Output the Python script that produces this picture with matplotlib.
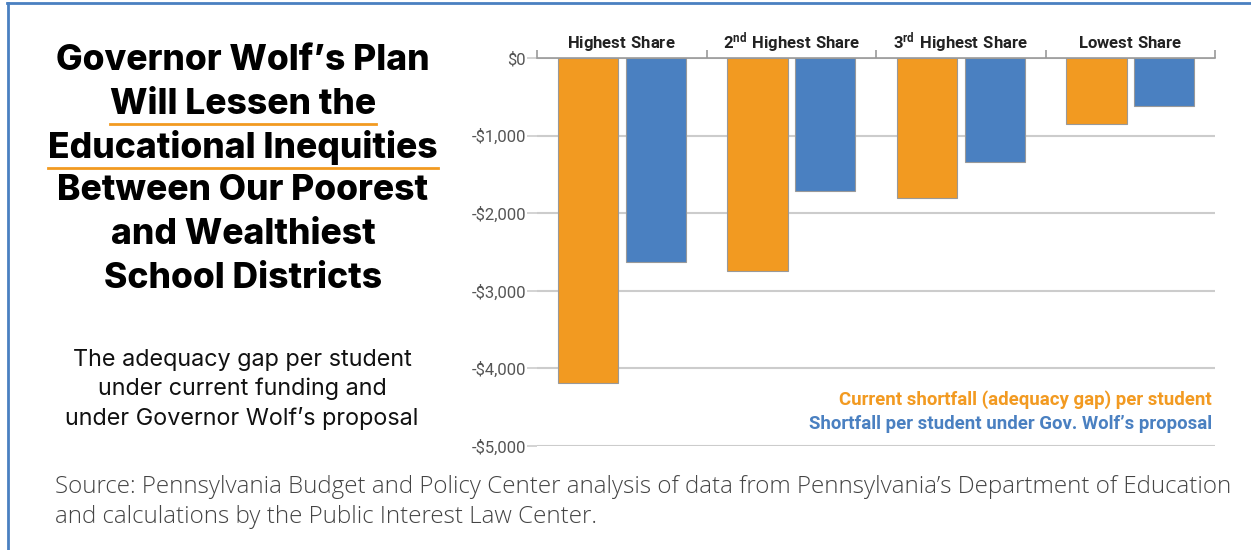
import matplotlib
matplotlib.use("Agg")
import matplotlib.pyplot as plt
from matplotlib.lines import Line2D
import numpy as np

plt.rcParams["mathtext.fontset"] = "custom"
plt.rcParams["mathtext.rm"] = "Roboto"
plt.rcParams["mathtext.bf"] = "Roboto:bold"

categories = [r"$\mathbf{Highest\ Share}$", r"$\mathbf{2^{nd}\ Highest\ Share}$",
              r"$\mathbf{3^{rd}\ Highest\ Share}$", r"$\mathbf{Lowest\ Share}$"]
current_gap = [-4190, -2745, -1805, -850]
proposal_gap = [-2630, -1715, -1340, -620]
yticks = [0, -1000, -2000, -3000, -4000, -5000]
ytick_labels = ["$0", "-$1,000", "-$2,000", "-$3,000", "-$4,000", "-$5,000"]

ORANGE = "#F29A21"
BLUE = "#4A80C1"
GRID = "#CCCCCC"
NARROW = ["Roboto", "DejaVu Sans"]
HEAD = ["Inter", "DejaVu Sans"]
BODY = ["Open Sans", "DejaVu Sans"]
W, H = 1251, 550

fig = plt.figure(figsize=(W / 100, H / 100), dpi=100)
ax = fig.add_axes([0.4293, 0.1891, 0.5420, 0.7055])

x = np.arange(len(categories))
ax.bar(x - 0.2, current_gap, width=0.355, color=ORANGE, edgecolor="#999999",
       linewidth=0.8, zorder=3)
ax.bar(x + 0.2, proposal_gap, width=0.355, color=BLUE, edgecolor="#999999",
       linewidth=0.8, zorder=3)

ax.set_xlim(-0.5, 3.5)
ax.set_ylim(-5000, 0)
ax.set_yticks(yticks)
ax.set_yticklabels(ytick_labels, family=NARROW, fontsize=12, color="#555555")
ax.yaxis.grid(True, color=GRID, linewidth=1.5, zorder=0)
ax.tick_params(axis="y", length=7, width=1.2, color=GRID, pad=1)

# category names sit above the $0 line, separators as small upward ticks
ax.xaxis.tick_top()
ax.set_xticks(x)
ax.set_xticklabels(categories, fontsize=12, color="#222222")
for lbl in ax.get_xticklabels():
    lbl.set_verticalalignment("baseline")
ax.set_xticks(np.arange(-0.5, 4, 1), minor=True)
ax.tick_params(axis="x", which="major", length=0, pad=7)
ax.tick_params(axis="x", which="minor", length=6, width=1.2, color="#999999")
for side in ["left", "right", "bottom"]:
    ax.spines[side].set_visible(False)
ax.spines["top"].set_color("#999999")
ax.spines["top"].set_linewidth(1.2)

ax.text(0.995, 0.1186, "Current shortfall (adequacy gap) per student",
        transform=ax.transAxes, ha="right", va="center", family=NARROW,
        fontsize=13.4, fontweight="bold", color=ORANGE)
ax.text(0.995, 0.0567, "Shortfall per student under Gov. Wolf\u2019s proposal",
        transform=ax.transAxes, ha="right", va="center", family=NARROW,
        fontsize=13.4, fontweight="bold", color=BLUE)


def text_block(lines, ys, cx, target_w, **kw):
    """Centered lines, font size scaled so the first line spans target_w px."""
    texts = [fig.text(cx / W, 1 - yy / H, s, ha="center", va="center", **kw)
             for s, yy in zip(lines, ys)]
    fig.canvas.draw()
    r = fig.canvas.get_renderer()
    scale = target_w / texts[0].get_window_extent(r).width
    for t in texts:
        t.set_fontsize(t.get_fontsize() * scale)
    return texts


# headline block on the left
title_lines = ["Governor Wolf\u2019s Plan", "Will Lessen the",
               "Educational Inequities", "Between Our Poorest",
               "and Wealthiest", "School Districts"]
title_texts = text_block(title_lines, [60, 104, 147, 191, 235, 279], 243, 375,
                         family=HEAD, fontweight="heavy", fontsize=22,
                         color="black")

sub_lines = ["The adequacy gap per student", "under current funding and",
             "under Governor Wolf\u2019s proposal"]
text_block(sub_lines, [360, 389, 418], 242, 340, family=HEAD, fontsize=15.5,
           color="#111111")

fig.canvas.draw()
renderer = fig.canvas.get_renderer()
for t in title_texts[1:3]:
    bb = t.get_window_extent(renderer)
    fig.add_artist(Line2D([bb.x0 / W, bb.x1 / W], [bb.y0 / H - 0.007] * 2,
                          color=ORANGE, linewidth=2, transform=fig.transFigure))

fig.text(55 / W, 1 - 487 / H,
         "Source: Pennsylvania Budget and Policy Center analysis of data "
         "from Pennsylvania\u2019s Department of Education",
         ha="left", va="center", family=BODY, fontweight="light",
         fontsize=17.4, color="#444444")
fig.text(55 / W, 1 - 517 / H,
         "and calculations by the Public Interest Law Center.",
         ha="left", va="center", family=BODY, fontweight="light",
         fontsize=17.4, color="#444444")

# blue frame along the top and left edges
fig.add_artist(Line2D([7 / W, 1], [1 - 3 / H] * 2, color=BLUE,
                      linewidth=2, transform=fig.transFigure))
fig.add_artist(Line2D([8 / W] * 2, [0, 1 - 3 / H], color=BLUE,
                      linewidth=2, transform=fig.transFigure))

fig.savefig("out.png", dpi=100)
